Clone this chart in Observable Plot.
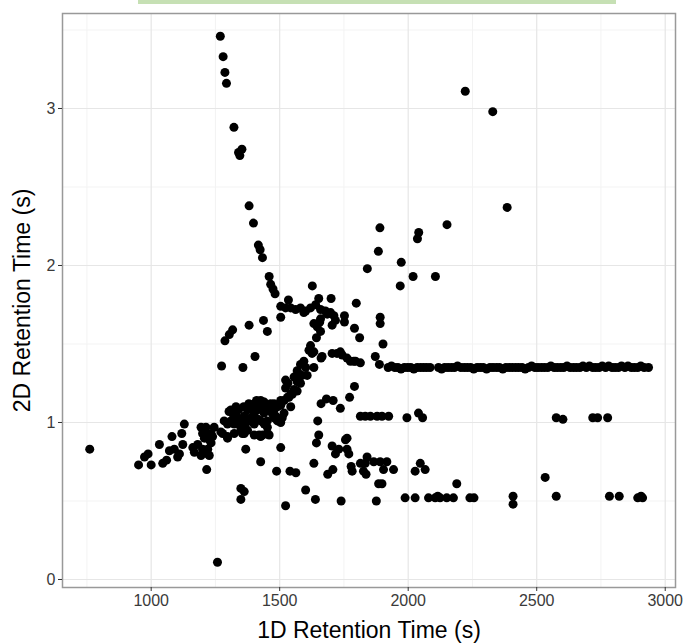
<!DOCTYPE html>
<html>
<head>
<meta charset="utf-8">
<script src="https://cdn.jsdelivr.net/npm/d3@7"></script>
<script src="https://cdn.jsdelivr.net/npm/@observablehq/plot@0.6"></script>
<style>
  html, body { margin: 0; padding: 0; background: #fff; }
  #wrap { position: relative; width: 685px; height: 643px; }
  #bar { position: absolute; top: 0; left: 138px; width: 478px; height: 4px; background: #c6e0b4; }
</style>
</head>
<body>
<div id="wrap"><div id="bar"></div><div id="chart"></div></div>
<script>
// Tick values
const xMajor = [1000, 1500, 2000, 2500, 3000];
const xMinor = [750, 1250, 1750, 2250, 2750];
const yMajor = [0, 1, 2, 3];
const yMinor = [0.5, 1.5, 2.5, 3.5];
const xTitle = "1D Retention Time (s)";
const yTitle = "2D Retention Time (s)";

// Points as [1D retention time, 2D retention time]
const trailTop = [
  [1269,3.46],[1280,3.33],[1287,3.23],[1293,3.16],[1322,2.88],[1353,2.74],[1340,2.72],[1345,2.70],
  [1381,2.38],[1398,2.27],[1417,2.13],[1424,2.10],[1433,2.05],[1459,1.93],[1465,1.88],[1474,1.85],[1482,1.82]
];
const upperScatter = [
  [2222,3.11],[2329,2.98],[2385,2.37],[1890,2.24],[1884,2.09],[1841,1.98],[1973,2.02],[2041,2.21],
  [2036,2.17],[2151,2.26],[2019,1.93],[2106,1.93],[1969,1.87]
];
const band17 = [
  [1627,1.87],[1534,1.78],[1504,1.74],[1523,1.73],[1543,1.73],[1562,1.72],[1581,1.73],[1601,1.71],
  [1620,1.73],[1640,1.75],[1652,1.79],[1659,1.72],[1678,1.71],[1698,1.70],[1711,1.68],[1717,1.65],
  [1704,1.62],[1700,1.79],[1752,1.68],[1752,1.64],[1798,1.76],[1791,1.60],[1811,1.54],[1594,1.70],
  [1633,1.63],[1659,1.66],[1685,1.69],[1891,1.67],[1891,1.63],[1902,1.50]
];
const leftUpper = [
  [1504,1.67],[1437,1.65],[1381,1.62],[1452,1.58],[1317,1.59],[1304,1.56],[1287,1.52],[1404,1.42],
  [1274,1.36],[1357,1.35]
];
const rising = [
  [1656,1.64],[1646,1.61],[1659,1.58],[1643,1.54],[1620,1.49],[1633,1.45],[1665,1.42],[1614,1.46],
  [1626,1.44],[1633,1.35],[1594,1.39],[1581,1.37],[1601,1.35],[1575,1.31],[1588,1.30],[1568,1.26],
  [1556,1.21],[1549,1.18],[1532,1.25],[1523,1.27],[1536,1.16],[1517,1.14],[1556,1.29],[1568,1.33],
  [1607,1.30],[1581,1.25],[1523,1.22],[1543,1.18],[1568,1.20]
];
const band14 = [
  [1704,1.44],[1723,1.44],[1743,1.43],[1762,1.41],[1788,1.39],[1814,1.38],[1661,1.41],[1736,1.45],
  [1775,1.39],[1795,1.39],[1872,1.42],[1888,1.37]
];
const cluster = [
  [1504,1.11],[1491,1.10],[1478,1.08],[1465,1.12],[1452,1.09],[1439,1.06],[1426,1.10],[1414,1.08],
  [1401,1.06],[1388,1.03],[1375,1.01],[1362,1.04],[1349,1.01],[1336,1.03],[1323,0.99],[1310,1.01],
  [1297,0.99],[1303,1.07],[1510,1.03],[1504,1.00],[1452,1.01],[1401,0.99],[1349,0.95],[1452,0.93],
  [1420,0.92],[1213,0.97],[1245,0.97],[1200,0.93],[1278,0.93],[1284,1.01],[1310,1.08],[1375,1.08],
  [1401,1.12],[1426,1.14],[1478,1.12],[1504,1.14],[1530,1.16],[1375,0.95],[1401,0.92],[1426,0.91],
  [1355,0.93],[1297,0.91],[1271,0.94],[1491,1.01],[1517,1.06],[1543,1.10],[1452,0.97],[1478,1.03],
  [1426,1.01],[1401,1.03],[1349,0.97],[1323,0.93],[1362,0.93],[1433,0.92],[1459,0.92],[1297,0.90],
  [1207,0.90],[1233,0.93],[1220,0.83],[1226,0.79],[1320,1.05],[1340,1.08],[1360,1.10],[1380,1.12],
  [1390,1.09],[1410,1.14],[1440,1.13],[1470,1.06],[1485,1.04],[1395,1.00],[1415,1.02],[1440,0.99],
  [1365,0.99],[1330,1.10]
];
const midRight = [
  [1791,1.23],[1772,1.16],[1661,1.12],[1682,1.15],[1708,1.14],[1736,1.09],[1648,1.01],[1652,0.92],
  [1762,0.90],[1814,1.04],[1833,1.04],[1853,1.04],[1879,1.04],[1898,1.04],[1924,1.04],[1995,1.03],
  [2040,1.06],[2056,1.03],[1643,0.87],[2576,1.03],[2602,1.02],[2718,1.03],[2737,1.03],[2776,1.03]
];
const leftBand = [
  [761,0.83],[951,0.73],[1000,0.73],[974,0.78],[988,0.80],[1032,0.86],[1045,0.74],[1060,0.76],
  [1081,0.91],[1071,0.82],[1090,0.83],[1103,0.78],[1110,0.80],[1119,0.93],[1129,0.99],[1123,0.86],
  [1162,0.84],[1168,0.81],[1181,0.86],[1194,0.97],[1200,0.83],[1220,0.92],[1226,0.89],[1213,0.93],
  [1233,0.87],[1216,0.70],[1239,0.91],[1207,0.82],[1194,0.79],[1220,0.80]
];
const lower = [
  [1258,0.11],[1349,0.58],[1362,0.56],[1349,0.51],[1523,0.47],[1488,0.69],[1540,0.69],[1563,0.68],
  [1601,0.57],[1639,0.51],[1739,0.50],[1426,0.75],[1504,0.84],[1368,0.83],[1633,0.74],[1704,0.85],
  [1717,0.80],[1756,0.89],[1762,0.83],[1769,0.80],[1687,0.67],[1707,0.70],[1778,0.72],[1782,0.69],
  [1833,0.74],[1840,0.78],[1836,0.67],[1730,0.83],[1814,0.74],[1866,0.75],[1891,0.75],[1917,0.75],
  [1904,0.70],[1943,0.70],[1885,0.61],[1898,0.61],[1876,0.50],[2047,0.74],[2027,0.69],[2066,0.70],
  [2189,0.61],[1826,0.69],
  [1988,0.52],[2027,0.52],[2079,0.52],[2105,0.52],[2115,0.53],[2124,0.52],[2150,0.52],[2176,0.52],
  [2240,0.52],[2256,0.52],[2408,0.53],[2408,0.48],[2533,0.65],[2576,0.53],[2783,0.53],[2821,0.53],
  [2893,0.52],[2906,0.53],[2912,0.52]
];
const band135 = [
  [1922,1.35],[1935,1.36],[1948,1.35],[1960,1.35],[1972,1.34],[1985,1.35],[1998,1.35],[2010,1.35],
  [2022,1.34],[2035,1.35],[2048,1.35],[2060,1.35],[2072,1.35],[2085,1.35],[2118,1.35],[2130,1.34],
  [2142,1.35],[2155,1.35],[2168,1.35],[2180,1.35],[2192,1.36],[2205,1.35],[2218,1.35],[2230,1.35],
  [2243,1.35],[2255,1.34],[2268,1.35],[2280,1.35],[2292,1.35],[2305,1.34],[2318,1.35],[2330,1.35],
  [2343,1.35],[2355,1.35],[2368,1.34],[2380,1.35],[2393,1.35],[2405,1.35],[2418,1.35],[2430,1.35],
  [2443,1.35],[2455,1.34],[2468,1.35],[2480,1.36],[2493,1.35],[2505,1.35],[2518,1.35],[2530,1.35],
  [2543,1.35],[2555,1.36],[2568,1.35],[2580,1.35],[2593,1.35],[2605,1.35],[2618,1.36],[2630,1.35],
  [2643,1.35],[2655,1.35],[2668,1.35],[2680,1.36],[2693,1.35],[2705,1.36],[2718,1.35],[2730,1.35],
  [2743,1.35],[2755,1.36],[2768,1.35],[2780,1.36],[2793,1.35],[2805,1.35],[2818,1.35],[2830,1.36],
  [2843,1.35],[2855,1.36],[2868,1.35],[2880,1.35],[2893,1.35],[2905,1.36],[2918,1.35],[2935,1.35]
];

const points = [trailTop, upperScatter, band17, leftUpper, rising, band14, cluster, midRight, leftBand, lower, band135]
  .flat().map(([x, y]) => ({x, y}));

const chart = Plot.plot({
  width: 685,
  height: 643,
  marginTop: 13,
  marginRight: 10,
  marginBottom: 56,
  marginLeft: 62,
  x: {domain: [655, 3040]},
  y: {domain: [-0.051, 3.605]},
  style: {fontFamily: "'Liberation Sans', Arial, sans-serif", background: "white", overflow: "visible"},
  marks: [
    Plot.ruleX(xMinor, {stroke: "#f3f3f3", strokeWidth: 1}),
    Plot.ruleY(yMinor, {stroke: "#f3f3f3", strokeWidth: 1}),
    Plot.ruleX(xMajor, {stroke: "#e6e6e6", strokeWidth: 1.2}),
    Plot.ruleY(yMajor, {stroke: "#e6e6e6", strokeWidth: 1.2}),
    Plot.dot(points, {x: "x", y: "y", r: 4.5, fill: "black", stroke: "none"}),
    Plot.frame({stroke: "#999999", strokeWidth: 1.5}),
    Plot.axisX({ticks: xMajor, tickFormat: d => String(d), tickSize: 4, tickPadding: 3, fontSize: 16, color: "#3a3a3a", stroke: "#333", label: null}),
    Plot.axisY({ticks: yMajor, tickFormat: d => String(d), tickSize: 4, tickPadding: 3, fontSize: 16, color: "#3a3a3a", stroke: "#333", label: null}),
    Plot.text([xTitle], {frameAnchor: "bottom", dy: 43, fontSize: 23, fill: "black", textAnchor: "middle", lineAnchor: "middle"}),
    Plot.text([yTitle], {frameAnchor: "left", dx: -40, rotate: -90, fontSize: 23, fill: "black", textAnchor: "middle", lineAnchor: "middle"})
  ]
});
document.getElementById("chart").appendChild(chart);
</script>
</body>
</html>
